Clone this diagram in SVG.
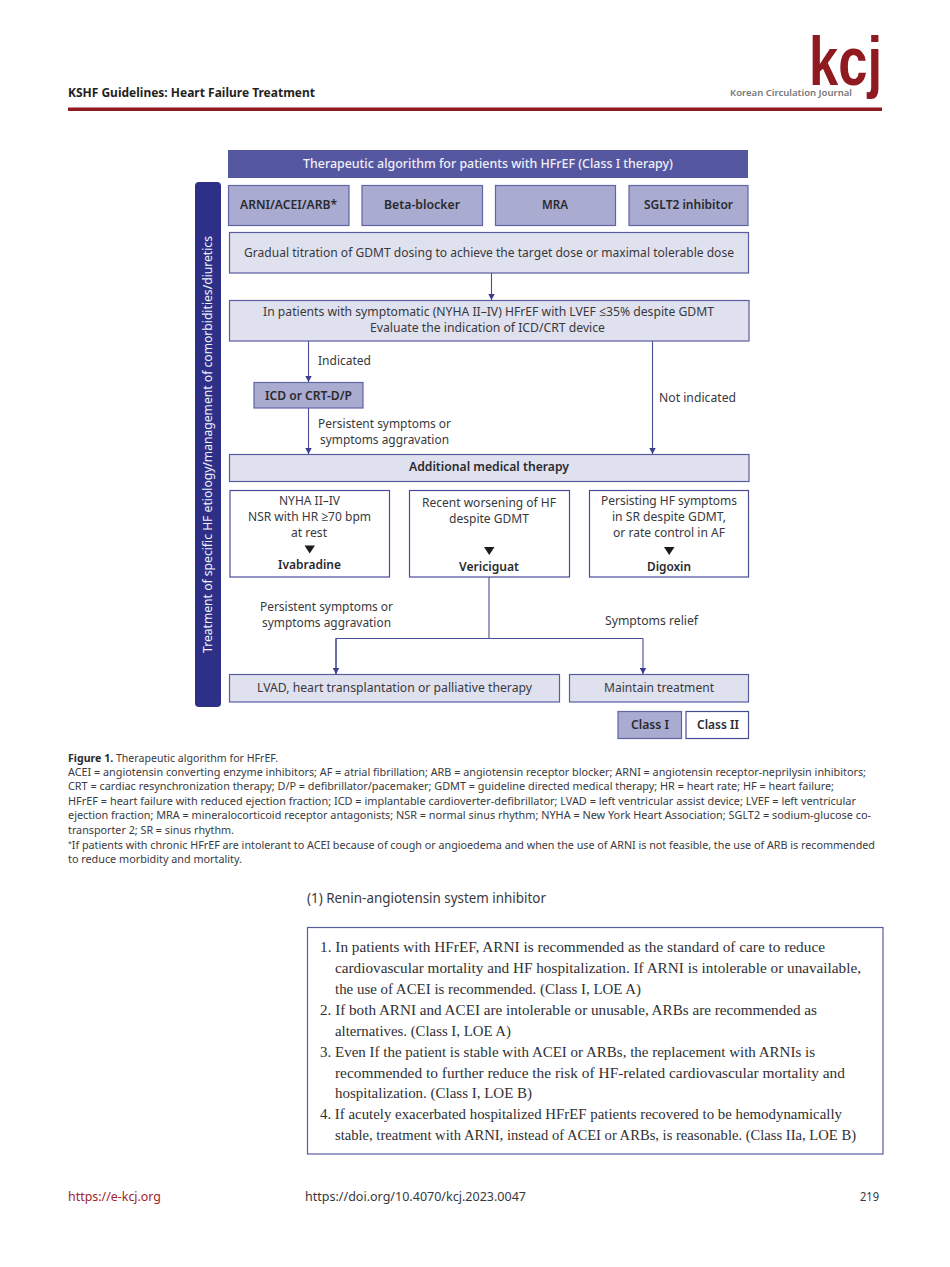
<svg xmlns="http://www.w3.org/2000/svg" width="950" height="1267" viewBox="0 0 950 1267">
<style>
text{font-family:"Noto Sans","Open Sans","Liberation Sans",sans-serif;fill:#38383d;font-size:13px}
.b{font-weight:600;fill:#2a2a2e}
.w{fill:#f0f0f8}
.cap{font-size:11px;fill:#3a3a3e}
.ser{font-family:"Liberation Serif",serif;font-size:14.5px;fill:#2f2f34}
.dark{fill:#a9abd0;stroke:#6264a6;stroke-width:1.2}
.light{fill:#e0e1ee;stroke:#5a5ca2;stroke-width:1.2}
.plain{fill:#fff;stroke:#4a4c98;stroke-width:1.2}
.ln{fill:none;stroke:#4a4c98;stroke-width:1.1}
.tri{fill:#1c1c20}
</style>
<defs><marker id="a" markerUnits="userSpaceOnUse" markerWidth="7" markerHeight="7" refX="6" refY="3.5" orient="auto"><path d="M0 .3L6 3.5L0 6.7Z" fill="#3a3c90"/></marker></defs>
<rect width="950" height="1267" fill="#fff"/>

<g id="page-header">
<text x="68" y="97" class="b" textLength="247" lengthAdjust="spacingAndGlyphs" style="font-weight:700;fill:#1f1f22">KSHF Guidelines: Heart Failure Treatment</text>
<text x="809" y="85" textLength="73" lengthAdjust="spacingAndGlyphs" style="font-family:'Liberation Sans',sans-serif;font-weight:700;font-size:68px;fill:#8f1a20">kcj</text>
<text x="730" y="96" class="b" textLength="122" lengthAdjust="spacingAndGlyphs" style="font-size:9.5px;fill:#77777a">Korean Circulation Journal</text>
<rect x="68" y="107.500" width="814" height="3.500" fill="#8f1a20"/>
</g>

<g id="connectors">
<path class="ln" d="M491.500 273V300" marker-end="url(#a)"/>
<path class="ln" d="M308.500 341V382" marker-end="url(#a)"/>
<path class="ln" d="M308.500 408V454" marker-end="url(#a)"/>
<path class="ln" d="M652.500 341V454" marker-end="url(#a)"/>
<path class="ln" d="M489 577V638.500"/>
<path class="ln" d="M336 674V638.500H643"/>
<path class="ln" d="M336 638.500V674" marker-end="url(#a)"/>
<path class="ln" d="M643 638.500V674" marker-end="url(#a)"/>
</g>

<g id="sidebar"><rect x="195" y="182" width="26" height="525" rx="4" fill="#2e3088"/>
<text transform="translate(212 653) rotate(-90)" class="w" textLength="417" lengthAdjust="spacingAndGlyphs">Treatment of specific HF etiology/management of comorbidities/diuretics</text></g>

<g id="title"><rect x="228" y="150" width="520" height="28" fill="#5558a0"/>
<text x="303" y="168" class="w" textLength="370" lengthAdjust="spacingAndGlyphs" style="font-weight:500">Therapeutic algorithm for patients with HFrEF (Class I therapy)</text></g>

<g id="arni"><rect class="dark" x="228.500" y="185.500" width="120.500" height="40"/><text x="240" y="209" class="b" textLength="97" lengthAdjust="spacingAndGlyphs">ARNI/ACEI/ARB*</text></g>
<g id="beta"><rect class="dark" x="362" y="185.500" width="120.500" height="40"/><text x="384" y="209" class="b" textLength="76" lengthAdjust="spacingAndGlyphs">Beta-blocker</text></g>
<g id="mra"><rect class="dark" x="495.500" y="185.500" width="120" height="40"/><text x="542" y="209" class="b" textLength="26" lengthAdjust="spacingAndGlyphs">MRA</text></g>
<g id="sglt2"><rect class="dark" x="629" y="185.500" width="119" height="40"/><text x="644" y="209" class="b" textLength="89" lengthAdjust="spacingAndGlyphs">SGLT2 inhibitor</text></g>

<g id="titration"><rect class="light" x="229.500" y="232.500" width="519" height="40.500"/><text x="244" y="257" textLength="490" lengthAdjust="spacingAndGlyphs">Gradual titration of GDMT dosing to achieve the target dose or maximal tolerable dose</text></g>

<g id="evaluate"><rect class="light" x="229.500" y="300.500" width="519.500" height="40.500"/>
<text x="263" y="316" textLength="451" lengthAdjust="spacingAndGlyphs">In patients with symptomatic (NYHA II–IV) HFrEF with LVEF ≤35% despite GDMT</text>
<text x="370" y="332" textLength="235" lengthAdjust="spacingAndGlyphs">Evaluate the indication of ICD/CRT device</text></g>

<g id="labels">
<text x="318" y="365" textLength="53" lengthAdjust="spacingAndGlyphs">Indicated</text>
<text x="318" y="427.500" textLength="133" lengthAdjust="spacingAndGlyphs">Persistent symptoms or</text>
<text x="320" y="443.500" textLength="129" lengthAdjust="spacingAndGlyphs">symptoms aggravation</text>
<text x="659" y="402" textLength="77" lengthAdjust="spacingAndGlyphs">Not indicated</text>
<text x="260" y="611" textLength="133" lengthAdjust="spacingAndGlyphs">Persistent symptoms or</text>
<text x="262" y="627" textLength="129" lengthAdjust="spacingAndGlyphs">symptoms aggravation</text>
<text x="605" y="625" textLength="93" lengthAdjust="spacingAndGlyphs">Symptoms relief</text>
</g>

<g id="icd"><rect class="dark" x="254" y="382.500" width="109" height="25.500"/><text x="265" y="400" class="b" textLength="87" lengthAdjust="spacingAndGlyphs">ICD or CRT-D/P</text></g>

<g id="additional"><rect class="light" x="229.500" y="454.500" width="519.500" height="27"/><text x="409" y="471" class="b" textLength="160" lengthAdjust="spacingAndGlyphs">Additional medical therapy</text></g>

<g id="ivabradine"><rect class="plain" x="230" y="490.500" width="159.500" height="86.500"/>
<text x="279" y="505" textLength="61" lengthAdjust="spacingAndGlyphs">NYHA II–IV</text>
<text x="248" y="521" textLength="123" lengthAdjust="spacingAndGlyphs">NSR with HR ≥70 bpm</text>
<text x="291" y="537" textLength="36" lengthAdjust="spacingAndGlyphs">at rest</text>
<path class="tri" d="M304.500 545.500H315L309.700 553.500Z"/>
<text x="278" y="569" class="b" textLength="63" lengthAdjust="spacingAndGlyphs">Ivabradine</text></g>

<g id="vericiguat"><rect class="plain" x="409.500" y="490.500" width="160" height="86.500"/>
<text x="422" y="507" textLength="134" lengthAdjust="spacingAndGlyphs">Recent worsening of HF</text>
<text x="449" y="523" textLength="80" lengthAdjust="spacingAndGlyphs">despite GDMT</text>
<path class="tri" d="M484 547H494.500L489.200 555Z"/>
<text x="459" y="571" class="b" textLength="60" lengthAdjust="spacingAndGlyphs">Vericiguat</text></g>

<g id="digoxin"><rect class="plain" x="589.500" y="490.500" width="159" height="86.500"/>
<text x="601" y="505" textLength="136" lengthAdjust="spacingAndGlyphs">Persisting HF symptoms</text>
<text x="612" y="521" textLength="114" lengthAdjust="spacingAndGlyphs">in SR despite GDMT,</text>
<text x="613" y="537" textLength="112" lengthAdjust="spacingAndGlyphs">or rate control in AF</text>
<path class="tri" d="M664 547H674.500L669.200 555Z"/>
<text x="647" y="571" class="b" textLength="44" lengthAdjust="spacingAndGlyphs">Digoxin</text></g>

<g id="lvad"><rect class="light" x="229.500" y="674.500" width="330" height="27.500"/><text x="257" y="692" textLength="275" lengthAdjust="spacingAndGlyphs">LVAD, heart transplantation or palliative therapy</text></g>
<g id="maintain"><rect class="light" x="569.500" y="674.500" width="179" height="27.500"/><text x="604" y="692" textLength="110" lengthAdjust="spacingAndGlyphs">Maintain treatment</text></g>
<g id="class1"><rect class="dark" x="618" y="711.500" width="63.500" height="27"/><text x="631" y="729" class="b" textLength="38" lengthAdjust="spacingAndGlyphs">Class I</text></g>
<g id="class2"><rect class="plain" x="686" y="711.500" width="62.500" height="27"/><text x="697" y="729" class="b" textLength="42" lengthAdjust="spacingAndGlyphs">Class II</text></g>

<g id="caption">
<text x="68" y="762" class="cap" textLength="210" lengthAdjust="spacingAndGlyphs"><tspan class="b" style="font-weight:700">Figure 1.</tspan> Therapeutic algorithm for HFrEF.</text>
<text x="68" y="776" class="cap" textLength="798" lengthAdjust="spacingAndGlyphs">ACEI = angiotensin converting enzyme inhibitors; AF = atrial fibrillation; ARB = angiotensin receptor blocker; ARNI = angiotensin receptor-neprilysin inhibitors;</text>
<text x="68" y="790" class="cap" textLength="766" lengthAdjust="spacingAndGlyphs">CRT = cardiac resynchronization therapy; D/P = defibrillator/pacemaker; GDMT = guideline directed medical therapy; HR = heart rate; HF = heart failure;</text>
<text x="68" y="805" class="cap" textLength="788" lengthAdjust="spacingAndGlyphs">HFrEF = heart failure with reduced ejection fraction; ICD = implantable cardioverter-defibrillator; LVAD = left ventricular assist device; LVEF = left ventricular</text>
<text x="68" y="819" class="cap" textLength="803" lengthAdjust="spacingAndGlyphs">ejection fraction; MRA = mineralocorticoid receptor antagonists; NSR = normal sinus rhythm; NYHA = New York Heart Association; SGLT2 = sodium-glucose co-</text>
<text x="68" y="834" class="cap" textLength="166" lengthAdjust="spacingAndGlyphs">transporter 2; SR = sinus rhythm.</text>
<text x="68" y="849" class="cap" textLength="807" lengthAdjust="spacingAndGlyphs"><tspan dy="-3" style="font-size:7px">*</tspan><tspan dy="3">If patients with chronic HFrEF are intolerant to ACEI because of cough or angioedema and when the use of ARNI is not feasible, the use of ARB is recommended</tspan></text>
<text x="68" y="863" class="cap" textLength="174" lengthAdjust="spacingAndGlyphs">to reduce morbidity and mortality.</text>
</g>

<text x="307" y="903" textLength="239" lengthAdjust="spacingAndGlyphs" style="font-size:14px">(1) Renin-angiotensin system inhibitor</text>

<g id="recommendations"><rect x="307.500" y="927.500" width="575.500" height="226.500" fill="#fff" stroke="#5a5ca2" stroke-width="1.200"/>
<text x="320" y="952" class="ser" textLength="505" lengthAdjust="spacingAndGlyphs">1. In patients with HFrEF, ARNI is recommended as the standard of care to reduce</text>
<text x="335" y="973" class="ser" textLength="526" lengthAdjust="spacingAndGlyphs">cardiovascular mortality and HF hospitalization. If ARNI is intolerable or unavailable,</text>
<text x="335" y="994" class="ser" textLength="306" lengthAdjust="spacingAndGlyphs">the use of ACEI is recommended. (Class I, LOE A)</text>
<text x="320" y="1015" class="ser" textLength="497" lengthAdjust="spacingAndGlyphs">2. If both ARNI and ACEI are intolerable or unusable, ARBs are recommended as</text>
<text x="335" y="1036" class="ser" textLength="176" lengthAdjust="spacingAndGlyphs">alternatives. (Class I, LOE A)</text>
<text x="320" y="1057" class="ser" textLength="495" lengthAdjust="spacingAndGlyphs">3. Even If the patient is stable with ACEI or ARBs, the replacement with ARNIs is</text>
<text x="335" y="1078" class="ser" textLength="510" lengthAdjust="spacingAndGlyphs">recommended to further reduce the risk of HF-related cardiovascular mortality and</text>
<text x="335" y="1098" class="ser" textLength="197" lengthAdjust="spacingAndGlyphs">hospitalization. (Class I, LOE B)</text>
<text x="320" y="1119" class="ser" textLength="522" lengthAdjust="spacingAndGlyphs">4. If acutely exacerbated hospitalized HFrEF patients recovered to be hemodynamically</text>
<text x="335" y="1140" class="ser" textLength="521" lengthAdjust="spacingAndGlyphs">stable, treatment with ARNI, instead of ACEI or ARBs, is reasonable. (Class IIa, LOE B)</text>
</g>

<g id="footer">
<text x="68" y="1201" textLength="93" lengthAdjust="spacingAndGlyphs" style="fill:#a0232b">https://e-kcj.org</text>
<text x="305" y="1201" textLength="221" lengthAdjust="spacingAndGlyphs">https://doi.org/10.4070/kcj.2023.0047</text>
<text x="860" y="1201" textLength="19" lengthAdjust="spacingAndGlyphs">219</text>
</g>
</svg>
